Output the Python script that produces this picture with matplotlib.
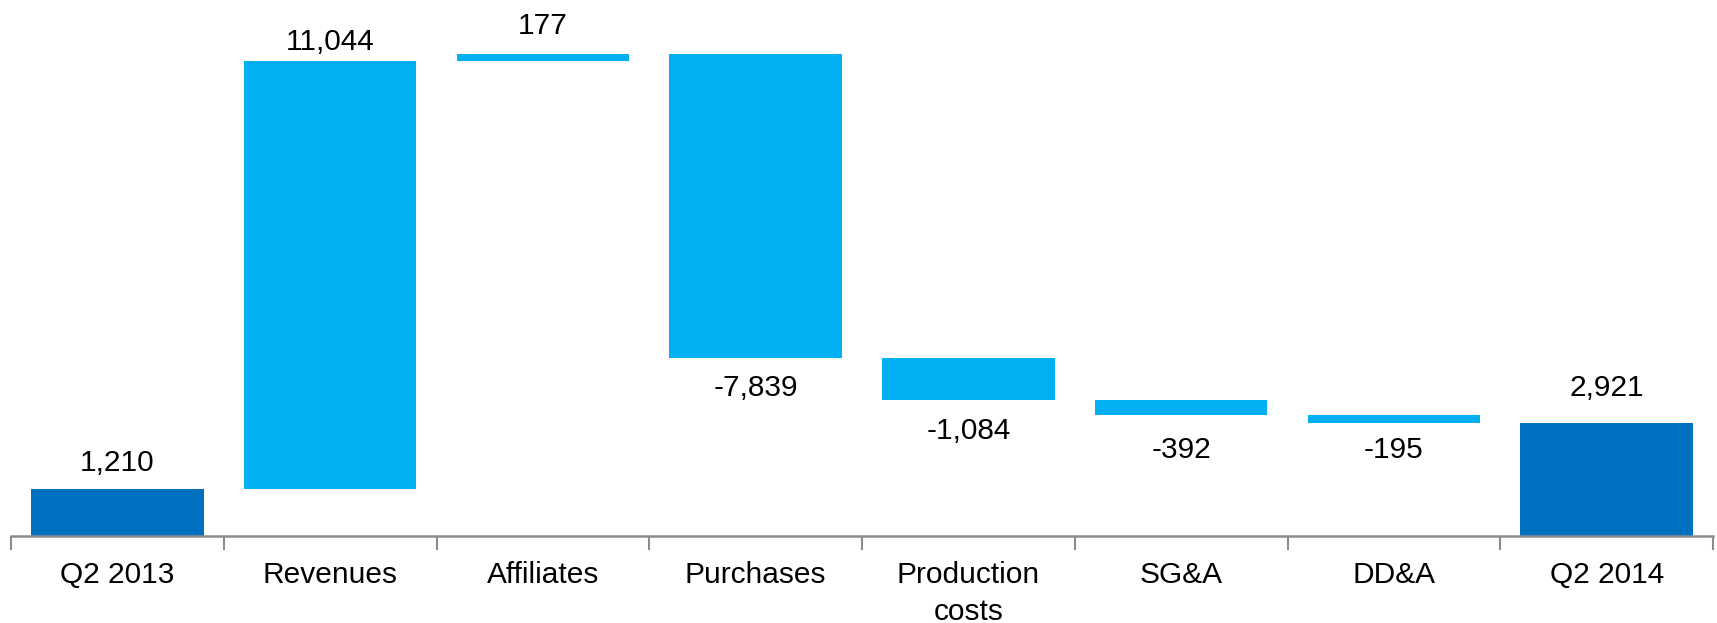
import matplotlib
matplotlib.use("Agg")
import matplotlib.pyplot as plt
import numpy as np

plt.rcParams['font.family'] = ['Liberation Sans', 'DejaVu Sans']

categories = ["Q2 2013", "Revenues", "Affiliates", "Purchases", "Production\ncosts",
              "SG&A", "DD&A", "Q2 2014"]
values = [1210, 11044, 177, -7839, -1084, -392, -195, 2921]
labels = ["1,210", "11,044", "177", "-7,839", "-1,084", "-392", "-195", "2,921"]
is_total = [True, False, False, False, False, False, False, True]

# distance (pixels) of each value label from its bar edge
label_gap = [26, 19, 28, 30, 31, 35, 27, 35]

dark = "#0070C0"
light = "#00B0F0"
axis_grey = "#8C8C8C"

W, H, DPI = 1717, 623, 100
fig = plt.figure(figsize=(W / DPI, H / DPI), dpi=DPI)
ax = fig.add_axes([11 / W, (H - 536) / H, (1713 - 11) / W, 536 / H])

x = np.arange(len(categories))
bottoms, heights = [], []
running = 0
for v, tot in zip(values, is_total):
    if tot:
        bottoms.append(0)
        heights.append(v)
        running = v
    else:
        if v >= 0:
            bottoms.append(running)
            heights.append(v)
        else:
            bottoms.append(running + v)
            heights.append(-v)
        running += v

colors = [dark if t else light for t in is_total]
ax.bar(x, heights, bottom=bottoms, width=0.81, color=colors, linewidth=0)

for xi, b, h, v, lab, g in zip(x, bottoms, heights, values, labels, label_gap):
    if v >= 0:
        ax.annotate(lab, (xi, b + h), xytext=(0, g), textcoords="offset pixels",
                    ha="center", va="center", fontsize=21.5, color="black")
    else:
        ax.annotate(lab, (xi, b), xytext=(0, -g), textcoords="offset pixels",
                    ha="center", va="center", fontsize=21.5, color="black")

ax.set_xlim(-0.5, len(categories) - 0.5)
ax.set_ylim(0, 536 / 38.76 * 1000)

for s in ["top", "right", "left"]:
    ax.spines[s].set_visible(False)
ax.spines["bottom"].set_color(axis_grey)
ax.spines["bottom"].set_linewidth(1.8)
ax.set_yticks([])

ax.set_xticks(np.arange(-0.5, len(categories), 1.0))
ax.set_xticklabels([])
ax.tick_params(axis="x", which="major", length=10, width=1.5, color=axis_grey)
ax.set_xticks(x, minor=True)
ax.set_xticklabels(categories, minor=True, fontsize=21.5, va="top", linespacing=1.4)
ax.tick_params(axis="x", which="minor", length=0, pad=18)

fig.savefig("out.png", dpi=DPI)
